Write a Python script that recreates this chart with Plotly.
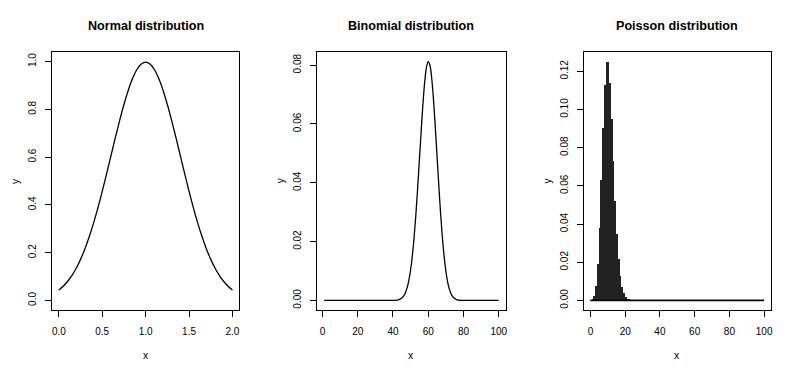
import plotly.graph_objects as go

# ---- data ----
normal_x = [round(i * 0.05, 2) for i in range(41)]
normal_y = [0.0438, 0.0594, 0.0794, 0.1043, 0.1350, 0.1720, 0.2157, 0.2664, 0.3238, 0.3875,
            0.4566, 0.5297, 0.6050, 0.6802, 0.7529, 0.8204, 0.8802, 0.9297, 0.9667, 0.9896,
            0.9974,
            0.9896, 0.9667, 0.9297, 0.8802, 0.8204, 0.7529, 0.6802, 0.6050, 0.5297, 0.4566,
            0.3875, 0.3238, 0.2664, 0.2157, 0.1720, 0.1350, 0.1043, 0.0794, 0.0594, 0.0438]

binom_x = list(range(1, 101))
binom_y = ([0.0] * 39 +                                   # x = 1..39
           [0.00002, 0.00005, 0.00011, 0.00023, 0.00044,  # 40..44
            0.00083, 0.00149, 0.00256, 0.00425, 0.00676,  # 45..49
            0.01034, 0.01520, 0.02149, 0.02919, 0.03811,  # 50..54
            0.04781, 0.05763, 0.06673, 0.07421, 0.07924,  # 55..59
            0.08122, 0.07989, 0.07538, 0.06820, 0.05914,  # 60..64
            0.04913, 0.03908, 0.02975, 0.02166, 0.01507,  # 65..69
            0.01001, 0.00634, 0.00383, 0.00220, 0.00121,  # 70..74
            0.00063, 0.00031, 0.00014, 0.00006, 0.00003] +  # 75..79
           [0.0] * 21)                                    # 80..100

pois_x = list(range(0, 101))
pois_y = ([0.00005, 0.00045, 0.00227, 0.00757, 0.01892, 0.03783, 0.06306, 0.09008, 0.11260,
           0.12511, 0.12511, 0.11374, 0.09478, 0.07291, 0.05208, 0.03472, 0.02170, 0.01276,
           0.00709, 0.00373, 0.00187, 0.00089, 0.00040, 0.00018, 0.00007, 0.00003] +
          [0.0] * 75)

titles = ["Normal distribution", "Binomial distribution", "Poisson distribution"]
x_ticks = [[0.0, 0.5, 1.0, 1.5, 2.0], [0, 20, 40, 60, 80, 100], [0, 20, 40, 60, 80, 100]]
x_ticktext = [["0.0", "0.5", "1.0", "1.5", "2.0"],
              ["0", "20", "40", "60", "80", "100"],
              ["0", "20", "40", "60", "80", "100"]]
y_ticks = [[0.0, 0.2, 0.4, 0.6, 0.8, 1.0],
           [0.00, 0.02, 0.04, 0.06, 0.08],
           [0.00, 0.02, 0.04, 0.06, 0.08, 0.10, 0.12]]
y_ticktext = [["0.0", "0.2", "0.4", "0.6", "0.8", "1.0"],
              ["0.00", "0.02", "0.04", "0.06", "0.08"],
              ["0.00", "0.02", "0.04", "0.06", "0.08", "0.10", "0.12"]]

# ---- layout geometry (page pixels; the page body adds an 8px margin) ----
OFF = 8
W, H = 800 - 2 * OFF, 375 - 2 * OFF
boxes_x = [(52, 240), (318, 507), (585, 773)]
box_top, box_bottom = 52, 310
x_ranges = [[-0.08, 2.08], [-2.96, 103.96], [-4, 104]]
y_ranges = [[-0.04, 1.04], [-0.00325, 0.08447], [-0.005, 0.1301]]


def fx(px):
    return (px - OFF) / W


def fy(py):
    return 1 - (py - OFF) / H


FONT = "Liberation Sans, Arial, Helvetica, sans-serif"

fig = go.Figure()

fig.add_trace(go.Scatter(x=normal_x, y=normal_y, mode="lines", line=dict(color="black", width=1.3, shape="spline"),
                         xaxis="x", yaxis="y", showlegend=False, hoverinfo="skip"))
fig.add_trace(go.Scatter(x=binom_x, y=binom_y, mode="lines", line=dict(color="black", width=1.3, shape="spline"),
                         xaxis="x2", yaxis="y2", showlegend=False, hoverinfo="skip"))
fig.add_trace(go.Scatter(x=pois_x, y=[0.0] * len(pois_x), mode="lines", line=dict(color="black", width=1.8),
                         xaxis="x3", yaxis="y3", showlegend=False, hoverinfo="skip"))
fig.add_trace(go.Bar(x=pois_x, y=pois_y, width=0.55, marker=dict(color="#222222", line=dict(width=0)),
                     xaxis="x3", yaxis="y3", showlegend=False, hoverinfo="skip"))

layout = dict(
    width=W, height=H,
    margin=dict(l=0, r=0, t=0, b=0),
    paper_bgcolor="white", plot_bgcolor="white",
    font=dict(family=FONT, color="black", size=10),
    bargap=0,
)

annotations = []
for i in range(3):
    sx = "" if i == 0 else str(i + 1)
    x0, x1 = boxes_x[i]
    common = dict(showline=True, linecolor="black", linewidth=1, mirror=True,
                  ticks="outside", ticklen=6, tickcolor="black", tickwidth=1,
                  showgrid=False, zeroline=False, tickmode="array",
                  tickfont=dict(family=FONT, size=10, color="black"))
    layout["xaxis" + sx] = dict(domain=[fx(x0), fx(x1)], anchor="y" + sx, range=x_ranges[i],
                                tickvals=x_ticks[i], ticktext=x_ticktext[i],
                                ticklabelstandoff=6, **common)
    layout["yaxis" + sx] = dict(domain=[fy(box_bottom), fy(box_top)], anchor="x" + sx,
                                range=y_ranges[i], tickvals=y_ticks[i], ticktext=y_ticktext[i],
                                tickangle=-90, ticklabelstandoff=5, **common)
    cx = (x0 + x1) / 2
    annotations.append(dict(text="<b>" + titles[i] + "</b>", x=fx(cx), y=fy(26), xref="paper", yref="paper",
                            showarrow=False, xanchor="center", yanchor="middle",
                            font=dict(family=FONT, size=12.6, color="black")))
    annotations.append(dict(text="x", x=fx(cx), y=fy(355), xref="paper", yref="paper",
                            showarrow=False, xanchor="center", yanchor="middle",
                            font=dict(family=FONT, size=10.5, color="black")))
    annotations.append(dict(text="y", x=fx(x0 - 37), y=fy((box_top + box_bottom) / 2),
                            xref="paper", yref="paper", textangle=-90,
                            showarrow=False, xanchor="center", yanchor="middle",
                            font=dict(family=FONT, size=10, color="black")))

layout["annotations"] = annotations
fig.update_layout(**layout)

fig.write_html("out.html")
